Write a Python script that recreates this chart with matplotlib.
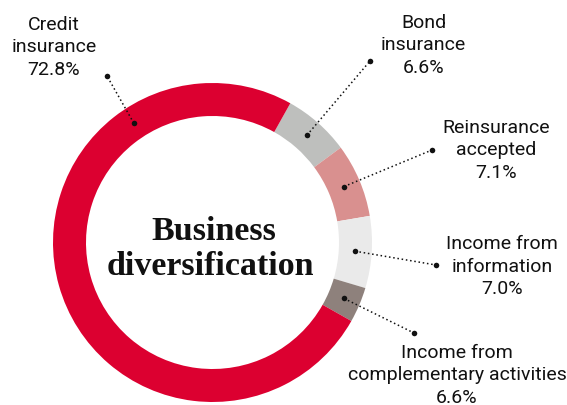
import numpy as np
import matplotlib
matplotlib.use('Agg')
import matplotlib.pyplot as plt

W, H = 567, 406

# slices in drawing order (clockwise from the top-right)
names = ['Bond\ninsurance', 'Reinsurance\naccepted', 'Income from\ninformation',
         'Income from\ncomplementary activities', 'Credit\ninsurance']
shares_text = ['6.6%', '7.1%', '7.0%', '6.6%', '72.8%']
# arc shares as drawn in the picture (degrees of the ring, in %)
arc_share = [6.75, 7.47, 7.28, 3.58, 74.92]
colors = ['#bebfbd', '#d9908f', '#eaeaea', '#8e817c', '#dc0030']

fig = plt.figure(figsize=(W / 100, H / 100), dpi=100)
ax = fig.add_axes([0, 0, 1, 1])

cx, cy, R, ring = 212.5, H - 243.5, 159.5, 33
wedges, _ = ax.pie(arc_share, colors=colors, startangle=60.8, counterclock=False,
                   center=(cx, cy), radius=R, frame=True,
                   wedgeprops=dict(width=ring, linewidth=0))
ax.set_xlim(0, W)
ax.set_ylim(0, H)
ax.set_aspect('equal')
ax.axis('off')

# label blocks: centre x, first baseline (image coords)
label_pos = [(423.5, 28), (496, 133), (502, 249), (457, 358), (54, 30)]
dot_pos = [(370, 62), (432, 151), (436, 266), (414, 334), (107, 77)]
font = ['Roboto', 'DejaVu Sans']

for i, w in enumerate(wedges):
    if i == 4:
        ang = np.deg2rad(123.4)
    else:
        ang = np.deg2rad((w.theta1 + w.theta2) / 2)
    rm = R - ring / 2
    px, py = cx + rm * np.cos(ang), cy + rm * np.sin(ang)
    dx, dy = dot_pos[i][0], H - dot_pos[i][1]
    ax.plot([px, dx], [py, dy], color='#111111', lw=1.1, ls=(0, (1, 1.8)))
    ax.plot([px, dx], [py, dy], 'o', color='#111111', ms=4, mew=0)
    lines = names[i].split('\n') + [shares_text[i]]
    x0, y0 = label_pos[i]
    for k, line in enumerate(lines):
        ax.text(x0, H - (y0 + k * 22.5), line, ha='center', va='baseline',
                fontsize=14, family=font, color='#111111')

serif = ['Liberation Serif', 'DejaVu Serif']
ax.text(214, H - 240, 'Business', ha='center', va='baseline', fontsize=24.5,
        family=serif, weight='bold', color='#111111')
ax.text(210, H - 275, 'diversification', ha='center', va='baseline', fontsize=24.5,
        family=serif, weight='bold', color='#111111')

fig.savefig('out.png', dpi=100)
